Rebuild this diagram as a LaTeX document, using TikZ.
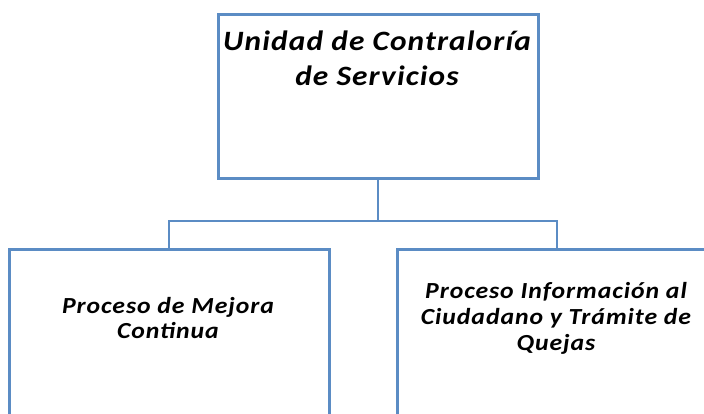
\documentclass[tikz,border=0pt]{standalone}
\usepackage{fontspec}
\setmainfont{Carlito}[FakeStretch=1.12,LetterSpace=4]
\definecolor{boxblue}{HTML}{5B8CC4}
\begin{document}
\begin{tikzpicture}[x=1pt,y=-1pt,
  box/.style={draw=boxblue,line width=2.6pt,fill=white,rectangle,anchor=north west,inner sep=0pt},
  lbl/.style={align=center,inner sep=0pt},
  conn/.style={draw=boxblue,line width=1.8pt}]
\useasboundingbox (0,0) rectangle (704,413);
\clip (0,0) rectangle (704,413);
\node[box,minimum width=320pt,minimum height=164pt] (top) at (217,13) {};
\node[box,minimum width=320pt,minimum height=220pt] (left) at (8,248) {};
\node[box,minimum width=320pt,minimum height=220pt] (right) at (396,248) {};
\node[lbl,font=\fontsize{28}{35}\selectfont\bfseries\itshape] (ttop) at (377,58) {Unidad de Contraloría\\de Servicios};
\node[lbl,font=\fontsize{23}{25.5}\selectfont\bfseries\itshape] (tleft) at (168,318) {Proceso de Mejora\\Continua};
\node[lbl,font=\fontsize{23}{26}\selectfont\bfseries\itshape] (tright) at (556,318) {Proceso Información al\\Ciudadano y Trámite de\\Quejas};
\draw[conn] (top.south) -- ++(0,41) coordinate (j);
\draw[conn] (left.north) |- (j) -| (right.north);
\end{tikzpicture}
\end{document}
